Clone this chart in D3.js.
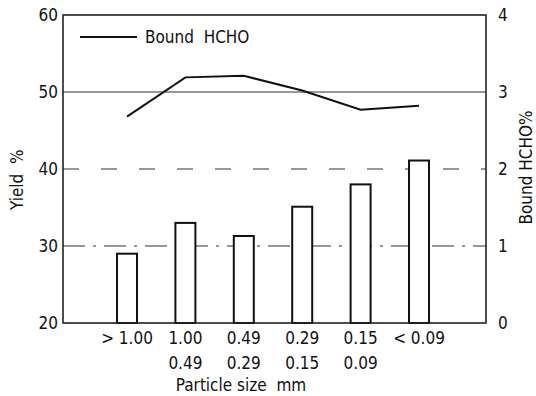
<!DOCTYPE html>
<html>
<head>
<meta charset="utf-8">
<script src="https://cdn.jsdelivr.net/npm/d3@7"></script>
<style>
  body { margin: 0; background: #fff; }
  svg text { font-family: "DejaVu Sans Condensed", "DejaVu Sans", sans-serif; font-stretch: condensed; fill: #111; white-space: pre; }
</style>
</head>
<body>
<svg id="chart" width="536" height="396"></svg>
<script>
// particle size classes (two-line labels)
const sizeTop = ["> 1.00", "1.00", "0.49", "0.29", "0.15", "< 0.09"];
const sizeBottom = ["", "0.49", "0.29", "0.15", "0.09", ""];
// yield %, left axis
const yieldPct = [29, 33, 31.3, 35.1, 38, 41.1];
// bound HCHO %, right axis
const boundHCHO = [2.68, 3.19, 3.21, 3.02, 2.77, 2.82];
const leftTicks = [20, 30, 40, 50, 60];
const rightTicks = [0, 1, 2, 3, 4];

const margin = { top: 15, right: 50, bottom: 73, left: 63 };
const svgEl = document.getElementById('chart');
const width = 536 - margin.left - margin.right;
const height = 396 - margin.top - margin.bottom;
const fs = '17px';

const svg = d3.select(svgEl).append('g')
  .attr('transform', `translate(${margin.left},${margin.top})`);

const x = d3.scalePoint().domain(sizeTop).range([64, 356]);
const yL = d3.scaleLinear().domain([20, 60]).range([height, 0]);
const yR = d3.scaleLinear().domain([0, 4]).range([height, 0]);

// gridlines, each drawn a bit differently like the original
const gridStyle = { 30: '22,8,3,8', 40: '16,22', 50: null };
svg.append('g').selectAll('line')
  .data([30, 40, 50])
  .join('line')
  .attr('x1', 0).attr('x2', width)
  .attr('y1', d => yL(d)).attr('y2', d => yL(d))
  .attr('stroke', '#333')
  .attr('stroke-width', 1.1)
  .attr('stroke-dasharray', d => gridStyle[d]);

// bars
const barW = 20;
svg.append('g').selectAll('rect')
  .data(yieldPct)
  .join('rect')
  .attr('x', (d, i) => x(sizeTop[i]) - barW / 2)
  .attr('y', d => yL(d))
  .attr('width', barW)
  .attr('height', d => height - yL(d))
  .attr('fill', '#fff')
  .attr('stroke', '#111')
  .attr('stroke-width', 2);

// frame
svg.append('rect')
  .attr('width', width).attr('height', height)
  .attr('fill', 'none').attr('stroke', '#222').attr('stroke-width', 1.6);

// HCHO line
const line = d3.line()
  .x((d, i) => x(sizeTop[i]))
  .y(d => yR(d));
svg.append('path')
  .datum(boundHCHO)
  .attr('d', line)
  .attr('fill', 'none')
  .attr('stroke', '#111')
  .attr('stroke-width', 2);

// axes (labels only, the frame carries the lines)
const axL = svg.append('g').call(d3.axisLeft(yL).tickValues(leftTicks).tickFormat(d3.format('d')).tickSize(0).tickPadding(5));
const axR = svg.append('g').attr('transform', `translate(${width},0)`)
  .call(d3.axisRight(yR).tickValues(rightTicks).tickFormat(d3.format('d')).tickSize(0).tickPadding(12));
[axL, axR].forEach(a => {
  a.select('.domain').remove();
  a.selectAll('text').style('font-size', fs);
  a.attr('font-family', null);
});

// x labels (two lines)
const xl = svg.append('g').attr('transform', `translate(0,${height})`);
xl.selectAll('text.top')
  .data(sizeTop)
  .join('text')
  .attr('class', 'top')
  .attr('x', d => x(d))
  .attr('y', 21)
  .attr('text-anchor', 'middle')
  .style('font-size', fs)
  .text(d => d);
xl.selectAll('text.bot')
  .data(sizeBottom)
  .join('text')
  .attr('class', 'bot')
  .attr('x', (d, i) => x(sizeTop[i]))
  .attr('y', 46)
  .attr('text-anchor', 'middle')
  .style('font-size', fs)
  .text(d => d);
xl.append('text')
  .attr('x', 178).attr('y', 68)
  .attr('text-anchor', 'middle')
  .style('font-size', fs)
  .text('Particle size  mm');

// axis titles
svg.append('text')
  .attr('transform', `translate(${-40},${yL(38.6)}) rotate(-90)`)
  .attr('text-anchor', 'middle')
  .style('font-size', fs)
  .text('Yield  %');
svg.append('text')
  .attr('transform', `translate(${width + 46},${yR(2.02)}) rotate(-90)`)
  .attr('text-anchor', 'middle')
  .style('font-size', fs)
  .text('Bound HCHO%');

// legend
const lg = svg.append('g').attr('transform', 'translate(17,22)');
lg.append('line').attr('x1', 0).attr('x2', 57).attr('stroke', '#111').attr('stroke-width', 2);
lg.append('text').attr('x', 65).attr('y', 6).style('font-size', fs).text('Bound  HCHO');
</script>
</body>
</html>
